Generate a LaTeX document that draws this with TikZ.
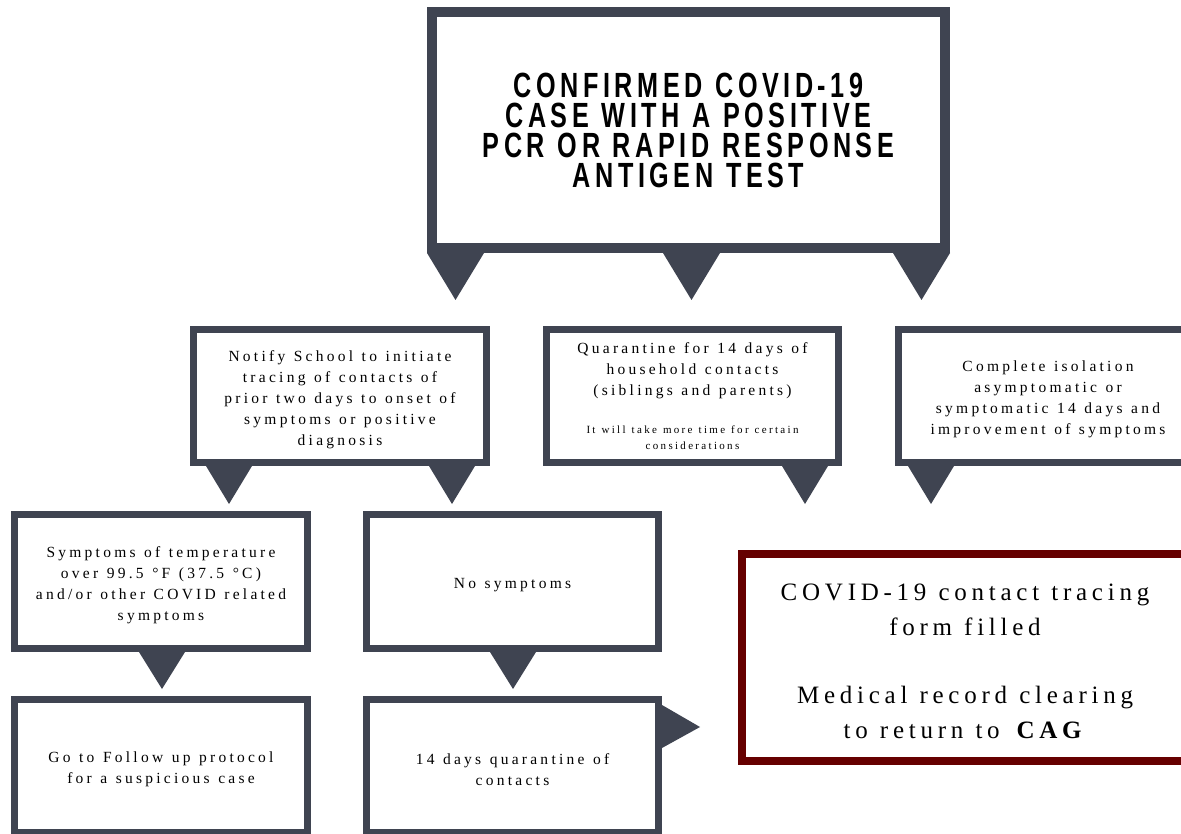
\documentclass[tikz,border=0pt]{standalone}
\usepackage{fontspec}
\setmainfont{Liberation Serif}
\newfontfamily\bodyfont[LetterSpace=21,WordSpace=1.2]{Liberation Serif}
\newfontfamily\redfont[LetterSpace=19,WordSpace=1.1]{Liberation Serif}
\newfontfamily\titlefont[FakeStretch=0.72,LetterSpace=13,WordSpace=1.1]{Liberation Sans}
\usetikzlibrary{calc}
\definecolor{dk}{HTML}{3F4451}
\definecolor{rd}{HTML}{660000}
\newcommand{\T}{\rule{0pt}{18pt}}
\newcommand{\TR}{\rule{0pt}{24pt}}
\newcommand{\sm}{\bodyfont\fontsize{11}{16}\selectfont}
\begin{document}
\begin{tikzpicture}[x=1pt,y=-1pt,
  bx/.style={draw=dk, line width=7pt, fill=white, inner sep=0pt, outer sep=0pt,
    align=center, font=\bodyfont\fontsize{15.5}{21}\selectfont},
  tri/.style={fill=dk, draw=none}]
\useasboundingbox[fill=white] (0,0) rectangle (1181,834);
\clip (0,0) rectangle (1181,834);

% nodes
\node[bx, line width=10pt, minimum width=513pt, minimum height=236pt,
  font=\titlefont\bfseries\fontsize{35}{30}\selectfont] (top) at (688.5,130)
  {CONFIRMED COVID-19\\CASE WITH A POSITIVE\\PCR OR RAPID RESPONSE\\ANTIGEN TEST};

\node[bx, minimum width=293pt, minimum height=133pt] (notify) at (340,396)
  {\T Notify School to initiate\\tracing of contacts of\\prior two days to onset of\\symptoms or positive\\diagnosis};
\node[bx, minimum width=292pt, minimum height=133pt] (quar) at (692.5,396)
  {Quarantine for 14 days of\\household contacts\\(siblings and parents)\\[17pt]\sm It will take more time for certain\\[-5pt]\sm considerations};
\node[bx, minimum width=299pt, minimum height=133pt] (iso) at (1048,396)
  {\T Complete isolation\\asymptomatic or\\symptomatic 14 days and\\improvement of symptoms};

\node[bx, minimum width=293pt, minimum height=134pt] (sym) at (161,581.5)
  {\T Symptoms of temperature\\over 99.5 °F (37.5 °C)\\and/or other COVID related\\symptoms};
\node[bx, minimum width=292pt, minimum height=134pt] (nosym) at (512.5,581.5)
  {\T No symptoms};

\node[bx, minimum width=293pt, minimum height=133pt] (follow) at (161,766)
  {\T Go to Follow up protocol\\for a suspicious case};
\node[bx, minimum width=292pt, minimum height=133pt] (quar14) at (512.5,766)
  {\T 14 days quarantine of\\contacts};

\node[bx, draw=rd, line width=8pt, minimum width=446pt, minimum height=207pt,
  font=\redfont\fontsize{25}{35}\selectfont] (red) at (965,657.5)
  {\TR COVID-19 contact tracing\\form filled\\[33pt]Medical record clearing\\to return to \textbf{CAG}};

% pointers (connectors)
\fill[tri] ($(top.south west)+(-5,5)$) -- ($(top.south west)+(52,5)$) -- ($(top.south west)+(23.5,52)$) -- cycle;
\fill[tri] ($(top.south)+(-25.5,5)$) -- ($(top.south)+(31.5,5)$) -- ($(top.south)+(3,52)$) -- cycle;
\fill[tri] ($(top.south east)+(-52,5)$) -- ($(top.south east)+(5,5)$) -- ($(top.south east)+(-23.5,52)$) -- cycle;

\fill[tri] ($(notify.south west)+(12.5,3.5)$) -- ($(notify.south west)+(58.5,3.5)$) -- ($(notify.south west)+(35.5,41.5)$) -- cycle;
\fill[tri] ($(notify.south east)+(-57.5,3.5)$) -- ($(notify.south east)+(-11.5,3.5)$) -- ($(notify.south east)+(-34.5,41.5)$) -- cycle;
\fill[tri] ($(quar.south east)+(-56.5,3.5)$) -- ($(quar.south east)+(-10.5,3.5)$) -- ($(quar.south east)+(-33.5,41.5)$) -- cycle;
\fill[tri] ($(iso.south west)+(9.5,3.5)$) -- ($(iso.south west)+(55.5,3.5)$) -- ($(iso.south west)+(32.5,41.5)$) -- cycle;

\fill[tri] ($(sym.south)+(-22,3.5)$) -- ($(sym.south)+(24,3.5)$) -- ($(sym.south)+(1,40.5)$) -- cycle;
\fill[tri] ($(nosym.south)+(-22.5,3.5)$) -- ($(nosym.south)+(23.5,3.5)$) -- ($(nosym.south)+(0.5,40.5)$) -- cycle;

\fill[tri] ($(quar14.north east)+(3.5,5.5)$) -- ($(quar14.north east)+(3.5,48.5)$) -- ($(quar14.north east)+(41.5,27.5)$) -- cycle;
\end{tikzpicture}
\end{document}
